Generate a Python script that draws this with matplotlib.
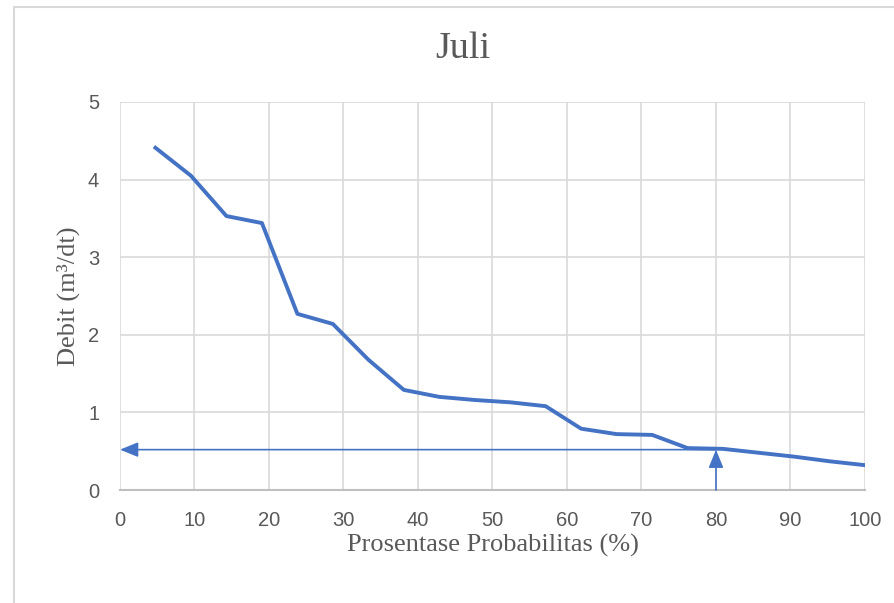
import matplotlib.pyplot as plt
from matplotlib.patches import Rectangle

# probabilitas (%) dan debit (m3/dt) bulan Juli
probabilitas = [4.76, 9.52, 14.29, 19.05, 23.81, 28.57, 33.33, 38.10, 42.86, 47.62,
                52.38, 57.14, 61.90, 66.67, 71.43, 76.19, 80.95, 85.71, 90.48, 95.24, 100.0]
debit = [4.41, 4.05, 3.53, 3.44, 2.27, 2.14, 1.68, 1.29, 1.20, 1.16,
         1.13, 1.08, 0.79, 0.72, 0.71, 0.54, 0.53, 0.48, 0.43, 0.37, 0.32]

# debit andalan 80%
p_andalan = 80
q_andalan = 0.52

x_ticks = list(range(0, 101, 10))
y_ticks = [0, 1, 2, 3, 4, 5]

biru = '#4472C4'
teks = '#595959'
serif = ['Liberation Serif', 'DejaVu Serif']
sans = ['Liberation Sans', 'DejaVu Sans']

fig = plt.figure(figsize=(8.95, 6.03), dpi=100)
fig.patches.append(Rectangle((14 / 895, -0.01), 1.0, (603 - 7) / 603 + 0.01,
                             transform=fig.transFigure, fill=False,
                             edgecolor='#d9d9d9', linewidth=1.5))
ax = fig.add_axes([120 / 895, (603 - 490) / 603, 745 / 895, 388 / 603])

ax.plot(probabilitas, debit, color=biru, linewidth=2.8, solid_joinstyle='round', zorder=3)

# garis penunjuk Q80
ax.annotate('', xy=(0, q_andalan), xytext=(p_andalan, q_andalan),
            arrowprops=dict(arrowstyle='-|>,head_length=1.1,head_width=0.45',
                            color=biru, linewidth=1.2, shrinkA=0, shrinkB=0), zorder=4)
ax.annotate('', xy=(p_andalan, q_andalan), xytext=(p_andalan, 0),
            arrowprops=dict(arrowstyle='-|>,head_length=1.1,head_width=0.45',
                            color=biru, linewidth=1.2, shrinkA=0, shrinkB=0), zorder=4)

ax.set_xlim(0, 100)
ax.set_ylim(0, 5)
ax.set_xticks(x_ticks)
ax.set_yticks(y_ticks)
ax.grid(True, color='#d9d9d9', linewidth=1.2)
ax.set_axisbelow(True)
for s in ['top', 'right', 'left']:
    ax.spines[s].set_visible(False)
ax.spines['bottom'].set_color('#bfbfbf')
ax.spines['bottom'].set_linewidth(1.5)
ax.tick_params(length=0, colors=teks, labelsize=14.5)
ax.tick_params(axis='x', pad=15)
ax.tick_params(axis='y', pad=15)
for lbl in ax.get_xticklabels() + ax.get_yticklabels():
    lbl.set_family(sans)

fig.text(463 / 895, 1 - 49 / 603, 'Juli', family=serif, fontsize=27.5, color=teks,
         ha='center', va='center')
ax.set_xlabel('Prosentase Probabilitas (%)', family=serif, fontsize=19, color=teks, labelpad=3)
ax.set_ylabel('Debit (m³/dt)', family=serif, fontsize=19, color=teks, labelpad=6)

fig.savefig('out.png', dpi=100, facecolor='white')
